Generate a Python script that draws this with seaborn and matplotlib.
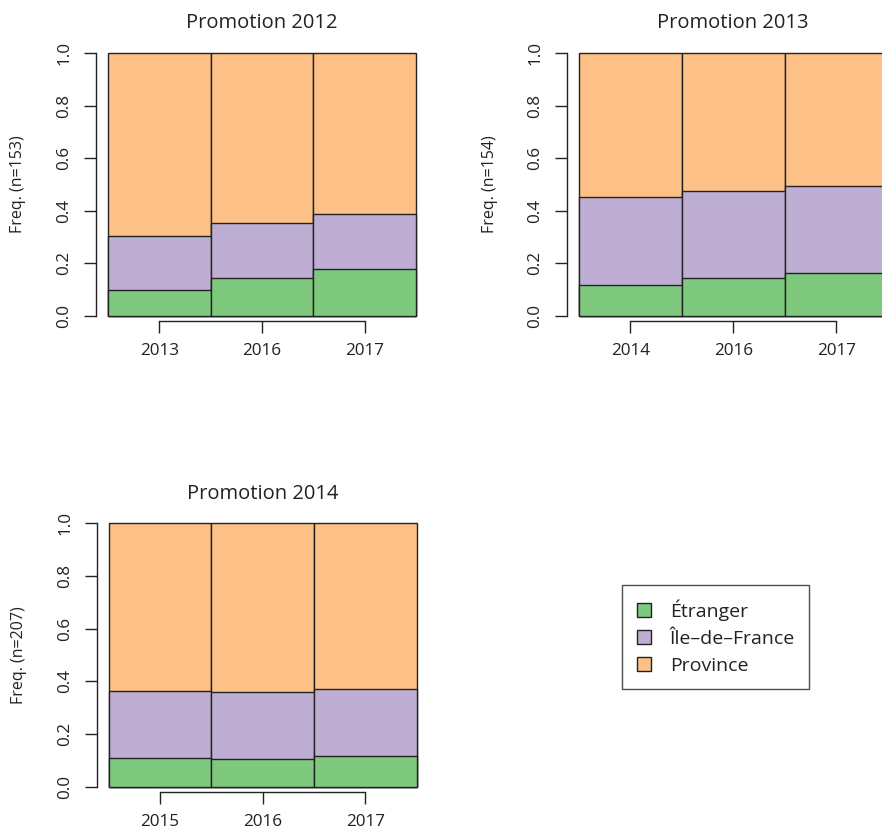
import matplotlib
matplotlib.use("Agg")
import matplotlib.pyplot as plt
from matplotlib.patches import Patch
import seaborn as sns

# Shares of graduates by location, per cohort and survey year
years_2012 = ["2013", "2016", "2017"]
etranger_2012 = [0.097, 0.145, 0.177]
idf_2012 = [0.209, 0.209, 0.209]
province_2012 = [0.694, 0.646, 0.614]

years_2013 = ["2014", "2016", "2017"]
etranger_2013 = [0.116, 0.144, 0.163]
idf_2013 = [0.338, 0.331, 0.333]
province_2013 = [0.546, 0.525, 0.504]

years_2014 = ["2015", "2016", "2017"]
etranger_2014 = [0.110, 0.104, 0.118]
idf_2014 = [0.255, 0.256, 0.251]
province_2014 = [0.635, 0.640, 0.631]

cohorts = ["Promotion 2012", "Promotion 2013", "Promotion 2014"]
sizes = [153, 154, 207]
categories = ["Étranger", "Île–de–France", "Province"]
colors = ["#7FC97F", "#BEAED4", "#FDC086"]

panels = [
    (years_2012, etranger_2012, idf_2012, province_2012),
    (years_2013, etranger_2013, idf_2013, province_2013),
    (years_2014, etranger_2014, idf_2014, province_2014),
]

sns.set_theme(style="white")
plt.rcParams["font.family"] = ["Open Sans", "DejaVu Sans"]

W, H = 882, 830
fig = plt.figure(figsize=(W / 100, H / 100), dpi=100)

# axes rectangles in pixels: left, top, width, height
rects = [(96, 47.7, 332, 273.3), (566.7, 47.7, 333, 273.3), (96.7, 518.0, 332, 273.7)]
ylab_x = [-0.235, -0.23, -0.235]

edge = "#222222"
for (yrs, e, i, p), title, n, (lx, ty, w, h), yx in zip(panels, cohorts, sizes, rects, ylab_x):
    ax = fig.add_axes([lx / W, (H - ty - h) / H, w / W, h / H])
    layers = [e, i, p]
    # cumulative tops, drawn back to front so each layer shows its own outline
    tops = []
    run = [0.0] * len(yrs)
    for layer in layers:
        run = [a + b for a, b in zip(run, layer)]
        tops.append(run)
    for top, col in zip(reversed(tops), reversed(colors)):
        sns.barplot(x=yrs, y=top, color=col, saturation=1, width=1,
                    edgecolor=edge, linewidth=1.0, errorbar=None, ax=ax)
    ax.set_xlim(-0.617, 2.617)
    ax.set_ylim(-0.019, 1.02)
    for patch in ax.patches:
        patch.set_clip_on(False)
    for s in ["top", "right"]:
        ax.spines[s].set_visible(False)
    ax.spines["left"].set_bounds(0, 1)
    ax.spines["bottom"].set_bounds(0, 2)
    for s in ["left", "bottom"]:
        ax.spines[s].set_color(edge)
        ax.spines[s].set_linewidth(1.0)
    ax.set_yticks([0, 0.2, 0.4, 0.6, 0.8, 1.0])
    ax.set_yticklabels(["0.0", "0.2", "0.4", "0.6", "0.8", "1.0"], rotation=90, va="center")
    ax.set_xticks([0, 1, 2])
    ax.set_xticklabels(yrs)
    ax.tick_params(axis="both", direction="out", length=8.5, width=1.0, color=edge,
                   labelsize=12.3, labelcolor="#222222", left=True, bottom=True)
    ax.tick_params(axis="y", pad=8.5)
    ax.tick_params(axis="x", pad=7.5)
    ax.set_xlabel("")
    ax.set_ylabel("")
    ax.text(yx, 0.5, f"Freq. (n={n})", transform=ax.transAxes, rotation=90,
            ha="center", va="center", fontsize=11.5, color="#222222")
    ax.set_title(title, fontsize=14.5, pad=14, color="#222222")

handles = [Patch(facecolor=c, edgecolor=edge, linewidth=1.0) for c in colors]
leg = fig.legend(handles, categories, loc="upper left",
                 bbox_to_anchor=(622 / W, (H - 585) / H), fontsize=14,
                 frameon=True, fancybox=False, edgecolor=edge,
                 handlelength=0.75, handleheight=0.75, handletextpad=0.95,
                 labelspacing=0.45, borderpad=0.75, borderaxespad=0)
leg.get_frame().set_linewidth(1.0)
for t in leg.get_texts():
    t.set_color("#222222")

fig.savefig("out.png", dpi=100)
